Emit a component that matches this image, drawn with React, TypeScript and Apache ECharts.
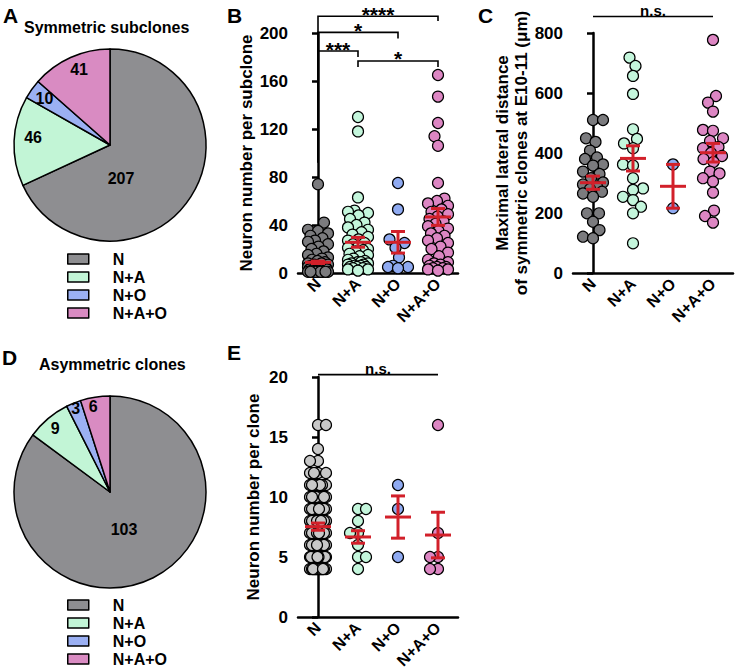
import React, { useEffect, useRef } from 'react';
import * as echarts from 'echarts';

// ---------------- data ----------------
const CATEGORIES = ['N', 'N+A', 'N+O', 'N+A+O'];
const SYMMETRIC_COUNTS = [207, 46, 10, 41];
const ASYMMETRIC_COUNTS = [103, 9, 3, 6];

// B: neuron number per subclone
const B_N = [74, 42, 36, 35, 33, 31, 29, 27, 26, 24, 22, 20, 18, 16, 15, 13, 12, 11, 10, 9, 8, 8, 7, 7, 6, 6, 5, 5, 5, 4, 4, 4, 3, 3, 3, 3, 2, 2, 2, 2, 2, 1, 1, 1, 1, 1, 1, 1, 1, 1];
const B_NA = [130, 118, 63, 52, 51, 50, 48, 45, 42, 40, 38, 36, 34, 32, 30, 28, 27, 25, 24, 22, 21, 20, 19, 18, 16, 15, 14, 12, 11, 10, 9, 9, 8, 8, 7, 7, 6, 6, 5, 5, 5, 4, 4, 3, 3, 2];
const B_NO = [75, 53, 28, 25, 21, 13, 6, 5, 5, 4];
const B_NAO = [165, 147, 125, 114, 106, 75, 62, 60, 58, 56, 53, 51, 49, 47, 45, 43, 41, 39, 37, 35, 33, 31, 29, 27, 25, 22, 20, 17, 14, 11, 9, 8, 7, 6, 5, 5, 4, 4, 3, 3, 2];
const B_MEAN = [8.9, 25.6, 25.6, 46.7];
const B_SEM = [1.0, 4.1, 9.0, 7.0];
const B_TICKS = [0, 40, 80, 120, 160, 200];
const B_BRACKETS = [
  { from: 0, to: 3, y: 214, leftEnd: 92, rightEnd: 210, label: '****' },
  { from: 0, to: 2, y: 200.5, leftEnd: 92, rightEnd: 195.5, label: '*' },
  { from: 0, to: 1, y: 185, leftEnd: 92, rightEnd: 180, label: '***' },
  { from: 1, to: 3, y: 176.7, leftEnd: 171.7, rightEnd: 171.7, label: '*' },
];

// C: maximal lateral distance (um)
const C_N = [510, 510, 449, 437, 408, 385, 380, 362, 358, 338, 330, 316, 302, 295, 288, 280, 271, 265, 254, 199, 199, 171, 143, 121, 116];
const C_NA = [718, 690, 657, 597, 479, 447, 432, 416, 362, 358, 316, 282, 277, 254, 243, 221, 199, 99];
const C_NO = [362, 216];
const C_NAO = [777, 590, 568, 538, 477, 474, 449, 440, 420, 416, 400, 390, 380, 370, 338, 332, 316, 305, 268, 208, 190, 168];
const C_MEAN = [301, 382, 289, 401];
const C_SEM = [22, 42, 73, 31];
const C_TICKS = [0, 200, 400, 600, 800];
const C_BRACKETS = [{ from: 0, to: 3, y: 855, leftEnd: 855, rightEnd: 855, label: 'n.s.' }];

// E: neuron number per clone
const E_N = [16, 16, 14, 13, 13, 12, 12, 12, 12,
  11, 11, 11, 11, 11, 11, 11, 11,
  10, 10, 10, 10, 10, 10, 10, 10, 10,
  9, 9, 9, 9, 9, 9, 9, 9, 9, 9,
  8, 8, 8, 8, 8, 8, 8, 8, 8, 8, 8, 8,
  7, 7, 7, 7, 7, 7, 7, 7, 7, 7, 7,
  6, 6, 6, 6, 6, 6, 6, 6, 6, 6,
  5, 5, 5, 5, 5, 5, 5, 5, 5, 5, 5, 5, 5, 5, 5, 5, 5, 5, 5,
  4, 4, 4, 4, 4, 4, 4, 4, 4, 4, 4, 4, 4, 4, 4];
const E_NA = [9, 9, 8, 7, 7, 6, 5, 5, 4];
const E_NO = [11, 9, 5];
const E_NAO = [16, 7, 5, 5, 4, 4];
const E_MEAN = [7.53, 6.67, 8.33, 6.83];
const E_SEM = [0.3, 0.52, 1.76, 1.9];
const E_TICKS = [0, 5, 10, 15, 20];
const E_BRACKETS = [{ from: 0, to: 3, y: 20.2, leftEnd: 20.2, rightEnd: 20.2, label: 'n.s.' }];

// ---------------- style / layout ----------------
const FONT = "'Liberation Sans', Arial, Helvetica, sans-serif";
const PIE_COLORS = ['#8e8e91', '#c2f5d6', '#9bb0f3', '#d98bc2'];
const DOT_COLORS = ['#7b7b7e', '#c4f6dc', '#8faaf1', '#dd86c3'];
const DOT_COLORS_E = ['#c8c8c8', '#c4f6dc', '#8faaf1', '#dd86c3'];
const RED = '#d2202a';
const SYMBOL = 11;
const BAND = 40;
const MEAN_HALF = 13;
const CAP_HALF = 7;

const GRID_B = { left: 298, top: 33, width: 160, height: 240 };
const GRID_C = { left: 573, top: 33, width: 160, height: 240 };
const GRID_E = { left: 298, top: 377, width: 160, height: 240 };

const PIE_A_LABEL_SHIFT = [[-32, 6], [-26, -5], [-24, -17], [-10, -29]];
const PIE_D_LABEL_SHIFT = [[-9, -8], [-22, -25], [-15, -36], [-9, -35]];

function swarmOffsets(values: number[], pxPerUnit: number, diameter: number, maxHalf: number): number[] {
  const order = values.map((_, i) => i).sort((a, b) => values[a] - values[b]);
  const placed: { x: number; y: number }[] = [];
  const out = new Array(values.length).fill(0);
  const minD = diameter * 0.92;
  order.forEach((i, k) => {
    const y = values[i] * pxPerUnit;
    const sgn = k % 2 === 0 ? 1 : -1;
    const cands: number[] = [0];
    for (let s = 0.5; s <= maxHalf + 1e-9; s += 0.5) cands.push(sgn * s, -sgn * s);
    let chosen: number | null = null;
    let bestScore = -1;
    let bestX = 0;
    for (const c of cands) {
      let md = Infinity;
      for (const p of placed) {
        const dy = p.y - y;
        if (Math.abs(dy) >= minD) continue;
        const d = Math.hypot(p.x - c, dy);
        if (d < md) md = d;
      }
      if (md >= minD) { chosen = c; break; }
      if (md > bestScore + 1e-6) { bestScore = md; bestX = c; }
    }
    const x = chosen === null ? bestX : chosen;
    placed.push({ x, y });
    out[i] = x;
  });
  return out;
}

function scatterSeries(prefix: string, groups: number[][], colors: string[], pxPerUnit: number, xAxisIndex: number, yAxisIndex: number, maxHalf: number) {
  return groups.map((vals, ci) => {
    const offs = swarmOffsets(vals, pxPerUnit, SYMBOL, maxHalf);
    return {
      type: 'scatter',
      name: prefix + CATEGORIES[ci],
      xAxisIndex,
      yAxisIndex,
      symbol: 'circle',
      symbolSize: SYMBOL,
      clip: false,
      z: 3,
      itemStyle: { color: colors[ci], borderColor: '#000', borderWidth: 1.2, opacity: 1 },
      data: vals.map((v, i) => [ci + offs[i] / BAND, v]),
    };
  });
}

function errorSeries(means: number[], sems: number[], xAxisIndex: number, yAxisIndex: number) {
  return {
    type: 'custom',
    xAxisIndex,
    yAxisIndex,
    clip: false,
    z: 5,
    data: means.map((m, i) => [i, m, sems[i]]),
    renderItem: (_params: any, api: any) => {
      const x = api.value(0);
      const m = api.value(1);
      const s = api.value(2);
      const c = api.coord([x, m]);
      const hi = api.coord([x, m + s]);
      const lo = api.coord([x, m - s]);
      const style = { stroke: RED, lineWidth: 3, fill: null };
      return {
        type: 'group',
        children: [
          { type: 'line', shape: { x1: c[0] - MEAN_HALF, y1: c[1], x2: c[0] + MEAN_HALF, y2: c[1] }, style },
          { type: 'line', shape: { x1: c[0], y1: hi[1], x2: c[0], y2: lo[1] }, style },
          { type: 'line', shape: { x1: c[0] - CAP_HALF, y1: hi[1], x2: c[0] + CAP_HALF, y2: hi[1] }, style },
          { type: 'line', shape: { x1: c[0] - CAP_HALF, y1: lo[1], x2: c[0] + CAP_HALF, y2: lo[1] }, style },
        ],
      };
    },
  };
}

function bracketSeries(brackets: any[], xAxisIndex: number, yAxisIndex: number) {
  return {
    type: 'custom',
    xAxisIndex,
    yAxisIndex,
    clip: false,
    z: 6,
    data: brackets.map((b) => [b.from, b.y, b.to, b.leftEnd, b.rightEnd]),
    renderItem: (params: any, api: any) => {
      const b = brackets[params.dataIndex];
      const pL = api.coord([api.value(0), api.value(1)]);
      const pR = api.coord([api.value(2), api.value(1)]);
      const lE = api.coord([api.value(0), api.value(3)]);
      const rE = api.coord([api.value(2), api.value(4)]);
      const isStar = b.label.indexOf('*') >= 0;
      return {
        type: 'group',
        children: [
          {
            type: 'polyline',
            shape: { points: [[pL[0], lE[1]], [pL[0], pL[1]], [pR[0], pR[1]], [pR[0], rE[1]]] },
            style: { stroke: '#000', lineWidth: 1.6, fill: null },
          },
          {
            type: 'text',
            x: (pL[0] + pR[0]) / 2,
            y: isStar ? pL[1] - 2 : pL[1] + 1,
            style: {
              text: b.label,
              fill: '#000',
              fontSize: isStar ? 21 : 15,
              fontWeight: 'bold',
              fontFamily: FONT,
              align: 'center',
              verticalAlign: isStar ? 'middle' : 'bottom',
            },
          },
        ],
      };
    },
  };
}

const axisText = { color: '#000', fontSize: 16, fontWeight: 'bold', fontFamily: FONT };
const tickText = { ...axisText, fontSize: 17 };

function catAxis(gridIndex: number) {
  return {
    type: 'category',
    gridIndex,
    data: CATEGORIES,
    boundaryGap: true,
    axisLine: { show: true, lineStyle: { color: '#000', width: 2.5 } },
    axisTick: { show: false },
    axisLabel: { ...axisText, rotate: 45, margin: 8, interval: 0 },
    splitLine: { show: false },
  };
}

function hiddenAxis(gridIndex: number) {
  return { type: 'value', gridIndex, min: -0.5, max: 3.5, show: false, splitLine: { show: false } };
}

function valAxis(gridIndex: number, ticks: number[], name: string, nameGap: number) {
  return {
    type: 'value',
    gridIndex,
    min: ticks[0],
    max: ticks[ticks.length - 1],
    interval: ticks[1] - ticks[0],
    name,
    nameLocation: 'middle',
    nameGap,
    nameTextStyle: { ...axisText, fontSize: 17, lineHeight: 19 },
    axisLine: { show: true, lineStyle: { color: '#000', width: 2.5 } },
    axisTick: { show: true, length: 6, lineStyle: { color: '#000', width: 2.5 } },
    axisLabel: { ...tickText, margin: 10 },
    splitLine: { show: false },
  };
}

function pieSeries(counts: number[], center: number[], shifts: number[][]) {
  return {
    type: 'pie',
    center,
    radius: 96,
    startAngle: 90,
    clockwise: true,
    avoidLabelOverlap: false,
    minShowLabelAngle: 0,
    z: 2,
    itemStyle: { borderColor: '#000', borderWidth: 1.5 },
    label: { show: true, position: 'inside', formatter: '{c}', ...axisText },
    labelLine: { show: false },
    emphasis: { disabled: true },
    labelLayout: (p: any) => ({ dx: shifts[p.dataIndex][0], dy: shifts[p.dataIndex][1] }),
    data: counts.map((v, i) => ({ name: CATEGORIES[i], value: v, itemStyle: { color: PIE_COLORS[i] } })),
  };
}

function legend(top: number) {
  return {
    orient: 'vertical',
    left: 67,
    top,
    padding: 0,
    icon: 'rect',
    itemWidth: 21,
    itemHeight: 10,
    itemGap: 2,
    selectedMode: false,
    data: CATEGORIES,
    itemStyle: { borderColor: '#000', borderWidth: 1.5 },
    textStyle: { ...axisText, lineHeight: 16, padding: [0, 0, 0, 19] },
  };
}

function label(text: string, x: number, y: number, size: number) {
  return {
    type: 'text',
    x,
    y,
    style: { text, fill: '#000', fontSize: size, fontWeight: 'bold', fontFamily: FONT, align: 'left', verticalAlign: 'middle' },
  };
}

export default function App() {
  const ref = useRef<HTMLDivElement>(null);
  useEffect(() => {
    if (!ref.current) return;
    const chart = echarts.init(ref.current, undefined, { renderer: 'svg' });
    const pxB = GRID_B.height / (B_TICKS[B_TICKS.length - 1] - B_TICKS[0]);
    const pxC = GRID_C.height / (C_TICKS[C_TICKS.length - 1] - C_TICKS[0]);
    const pxE = GRID_E.height / (E_TICKS[E_TICKS.length - 1] - E_TICKS[0]);
    const option: any = {
      animation: false,
      backgroundColor: '#fff',
      textStyle: { fontFamily: FONT },
      grid: [GRID_B, GRID_C, GRID_E],
      xAxis: [catAxis(0), hiddenAxis(0), catAxis(1), hiddenAxis(1), catAxis(2), hiddenAxis(2)],
      yAxis: [
        valAxis(0, B_TICKS, 'Neuron number per subclone', 35),
        valAxis(1, C_TICKS, 'Maximal lateral distance\nof symmetric clones at E10-11 (μm)', 32),
        valAxis(2, E_TICKS, 'Neuron number per clone', 35),
      ],
      legend: [legend(251), legend(597)],
      graphic: [
        label('A', 3, 15, 21),
        label('Symmetric subclones', 24, 27, 16),
        label('B', 227, 15, 21),
        label('C', 478, 15, 21),
        label('D', 2, 357, 21),
        label('Asymmetric clones', 39, 364, 16),
        label('E', 227, 352, 21),
      ],
      series: [
        pieSeries(SYMMETRIC_COUNTS, [110, 145], PIE_A_LABEL_SHIFT),
        pieSeries(ASYMMETRIC_COUNTS, [110, 492], PIE_D_LABEL_SHIFT),
        ...scatterSeries('B ', [B_N, B_NA, B_NO, B_NAO], DOT_COLORS, pxB, 1, 0, 10),
        errorSeries(B_MEAN, B_SEM, 1, 0),
        bracketSeries(B_BRACKETS, 1, 0),
        ...scatterSeries('C ', [C_N, C_NA, C_NO, C_NAO], DOT_COLORS, pxC, 3, 1, 10),
        errorSeries(C_MEAN, C_SEM, 3, 1),
        bracketSeries(C_BRACKETS, 3, 1),
        ...scatterSeries('E ', [E_N, E_NA, E_NO, E_NAO], DOT_COLORS_E, pxE, 5, 2, 8),
        errorSeries(E_MEAN, E_SEM, 5, 2),
        bracketSeries(E_BRACKETS, 5, 2),
      ],
    };
    chart.setOption(option);
    return () => chart.dispose();
  }, []);
  return <div ref={ref} style={{ position: 'fixed', left: 0, top: 0, width: 738, height: 672, background: '#fff' }} />;
}
